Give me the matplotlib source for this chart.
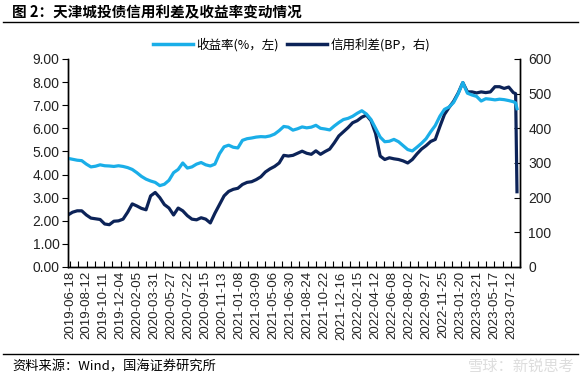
import matplotlib
matplotlib.use('Agg')
import matplotlib.pyplot as plt
from matplotlib.lines import Line2D

plt.rcParams['font.family'] = ['Liberation Sans', 'Noto Sans CJK SC', 'DejaVu Sans']

# trading-day index of each sample (one sample every 10 trading days, last two days at the end)
days = list(range(0, 980, 10)) + [975, 978]

# 收益率 (%, left axis)
yield_pct = [4.70, 4.66, 4.62, 4.60, 4.45, 4.33, 4.36, 4.42, 4.38, 4.37,
             4.35, 4.38, 4.35, 4.30, 4.22, 4.08, 3.92, 3.80, 3.72, 3.66,
             3.52, 3.58, 3.75, 4.08, 4.22, 4.50, 4.28, 4.33, 4.45, 4.52,
             4.42, 4.37, 4.45, 4.90, 5.20, 5.27, 5.18, 5.15, 5.48, 5.55,
             5.58, 5.62, 5.64, 5.63, 5.67, 5.75, 5.90, 6.08, 6.05, 5.92,
             5.98, 6.06, 6.02, 6.05, 6.13, 6.00, 5.97, 5.93, 6.10, 6.25,
             6.38, 6.43, 6.52, 6.65, 6.76, 6.62, 6.38, 6.00, 5.62, 5.42,
             5.44, 5.52, 5.42, 5.25, 5.08, 5.02, 5.18, 5.35, 5.55, 5.85,
             6.12, 6.52, 6.82, 6.92, 7.12, 7.50, 7.98, 7.52, 7.44, 7.38,
             7.18, 7.28, 7.26, 7.23, 7.26, 7.24, 7.20, 7.15, 7.10, 6.85]

# 信用利差 (BP, right axis)
spread_bp = [150, 158, 162, 162, 150, 141, 139, 137, 124, 122,
             132, 133, 138, 158, 182, 176, 169, 165, 205, 215,
             200, 180, 170, 150, 170, 162, 148, 138, 136, 142,
             138, 127, 155, 180, 205, 218, 224, 227, 238, 244,
             246, 252, 260, 274, 283, 290, 300, 322, 320, 322,
             328, 334, 328, 325, 335, 325, 333, 340, 358, 378,
             390, 402, 416, 422, 432, 438, 422, 385, 320, 310,
             315, 312, 310, 306, 300, 310, 326, 340, 350, 362,
             368, 405, 440, 460, 478, 502, 532, 505, 505, 502,
             505, 503, 505, 520, 520, 515, 519, 503, 500, 217]

date_labels = ['2019-06-18', '2019-08-12', '2019-10-11', '2019-12-04', '2020-02-05',
               '2020-03-31', '2020-05-27', '2020-07-22', '2020-09-15', '2020-11-13',
               '2021-01-08', '2021-03-09', '2021-05-06', '2021-06-30', '2021-08-24',
               '2021-10-22', '2021-12-16', '2022-02-15', '2022-04-12', '2022-06-08',
               '2022-08-02', '2022-09-27', '2022-11-25', '2023-01-20', '2023-03-21',
               '2023-05-17', '2023-07-12']
label_step = 37   # trading days between two date labels
label_start = 4

light = '#1AAEE8'
dark = '#0C2358'

fig = plt.figure(figsize=(5.83, 3.78), dpi=100)
ax = fig.add_axes([0.1166, 0.2937, 0.7753, 0.5503])
ax2 = ax.twinx()

ax.plot(days, yield_pct, color=light, lw=2.3, solid_joinstyle='round', zorder=2)
ax2.plot(days, spread_bp, color=dark, lw=2.3, solid_joinstyle='round', zorder=3)

ax.set_ylim(0, 9)
ax.set_yticks([i for i in range(10)])
ax.set_yticklabels(['%.2f' % i for i in range(10)], fontsize=10, color='#222222')
ax2.set_ylim(0, 600)
ax2.set_yticks(range(0, 700, 100))
ax2.set_yticklabels([str(v) for v in range(0, 700, 100)], fontsize=10, color='#222222')

ax.set_xlim(0, 978)
ax.set_xticks([label_start + label_step * i for i in range(len(date_labels))])
ax.set_xticklabels(date_labels, rotation=90, fontsize=9.5, color='#222222')
ax.set_xticks([label_start + label_step / 2 * i for i in range(2 * len(date_labels))], minor=True)
ax.tick_params(axis='x', which='both', direction='in', length=4, width=0.8, pad=3)
ax.tick_params(axis='y', direction='out', length=4, width=0.8, pad=2)
ax2.tick_params(axis='y', direction='in', length=4, width=0.8, pad=6)

for a in (ax, ax2):
    a.spines['top'].set_visible(False)
    for s in ('left', 'right', 'bottom'):
        a.spines[s].set_linewidth(1.0)
        a.spines[s].set_color('black')

ax.set_zorder(ax2.get_zorder() + 1)
ax.patch.set_visible(False)

handles = [Line2D([], [], color=light, lw=2.5), Line2D([], [], color=dark, lw=2.5)]
fig.legend(handles, ['收益率(%，左)', '信用利差(BP，右)'], loc='center',
           bbox_to_anchor=(0.5, 0.881), ncol=2, frameon=False,
           handlelength=3.2, columnspacing=0.6, handletextpad=0.3,
           prop={'family': ['Noto Sans CJK SC'], 'size': 9})

fig.text(0.021, 0.968, '图 2：天津城投债信用利差及收益率变动情况', fontsize=10.5,
         fontweight='bold', va='center', ha='left', family=['Noto Sans CJK SC'])
fig.add_artist(Line2D([0.005, 0.992], [0.942, 0.942], color='black', lw=1.0))
fig.add_artist(Line2D([0.005, 0.992], [0.064, 0.064], color='black', lw=1.0))
fig.text(0.021, 0.030, '资料来源：Wind，国海证券研究所', fontsize=9.5, va='center', ha='left',
         family=['Noto Sans CJK SC'])
fig.text(0.985, 0.030, '雪球：新锐思考', fontsize=11, va='center', ha='right',
         color='#dddddd', family=['Noto Sans CJK SC'])

fig.savefig('out.png', dpi=100)
